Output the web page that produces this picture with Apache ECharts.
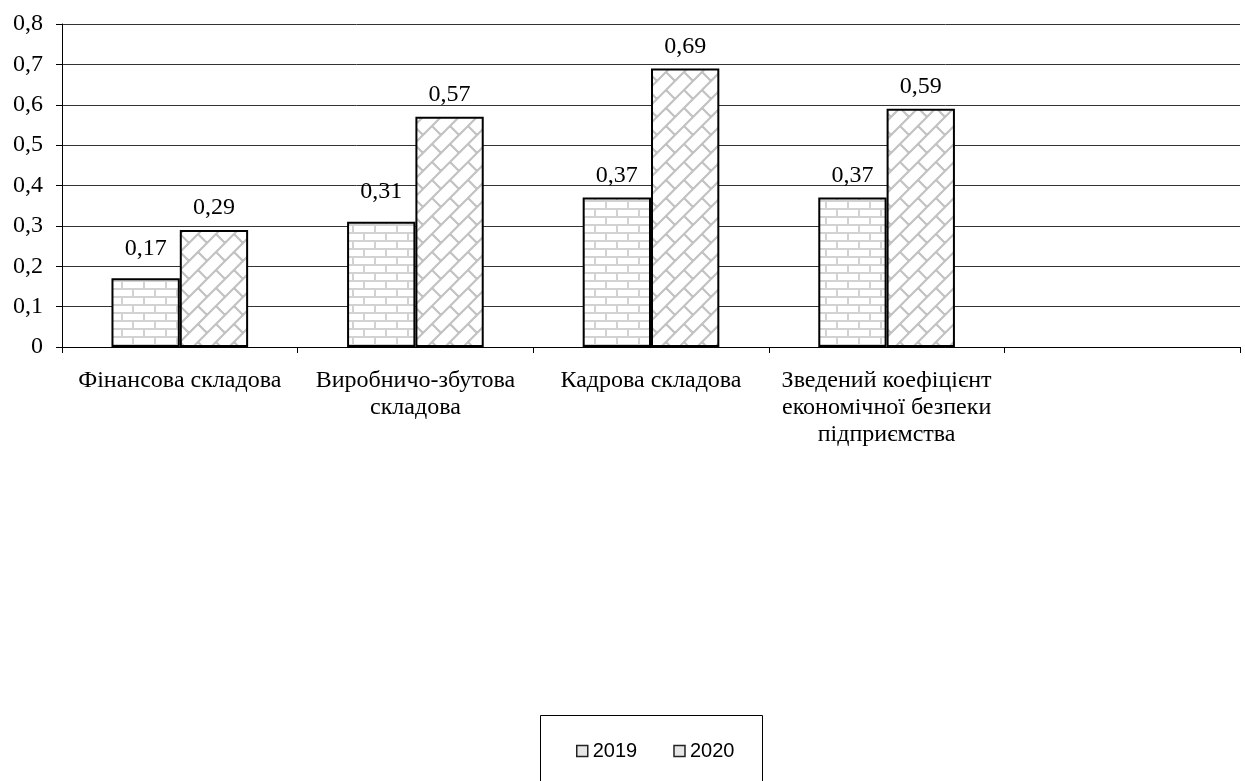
<!DOCTYPE html>
<html>
<head>
<meta charset="utf-8">
<script src="https://cdn.jsdelivr.net/npm/echarts@6/dist/echarts.min.js"></script>
<style>
  html, body { margin: 0; padding: 0; background: #fff; }
  #chart { width: 1245px; height: 781px; }
</style>
</head>
<body>
<div id="chart"></div>
<script>
// Categories (the last slot is left empty on purpose)
const categories = [
  'Фінансова складова',
  'Виробничо-збутова\nскладова',
  'Кадрова складова',
  'Зведений коефіцієнт\nекономічної безпеки\nпідприємства',
  ''
];
const seriesNames = ['2019', '2020'];
const values2019 = [0.17, 0.31, 0.37, 0.37, null];
const values2020 = [0.29, 0.57, 0.69, 0.59, null];
const yTicks = { min: 0, max: 0.8, interval: 0.1 };

const SERIF = '"Liberation Serif", "Times New Roman", serif';
const SANS = '"Liberation Sans", Arial, sans-serif';

// Horizontal brick fill
function brickTile() {
  const w = 22, h = 16;
  const c = document.createElement('canvas');
  c.width = w; c.height = h;
  const g = c.getContext('2d');
  g.fillStyle = '#ffffff';
  g.fillRect(0, 0, w, h);
  g.strokeStyle = '#d2d2d2';
  g.lineWidth = 2;
  g.beginPath();
  g.moveTo(0, 1); g.lineTo(w, 1);
  g.moveTo(0, 9); g.lineTo(w, 9);
  g.moveTo(1, 1); g.lineTo(1, 9);
  g.moveTo(12, 9); g.lineTo(12, 17);
  g.stroke();
  return c;
}

// Diagonal brick fill (rows running up-right)
function diagBrickTile() {
  const band = 18, n = band * 2;
  const c = document.createElement('canvas');
  c.width = n; c.height = n;
  const g = c.getContext('2d');
  g.fillStyle = '#ffffff';
  g.fillRect(0, 0, n, n);
  g.strokeStyle = '#c2c2c2';
  g.lineWidth = 2.2;
  g.beginPath();
  for (let k = -3; k <= 7; k++) {
    const u = band * k;
    g.moveTo(u + 80, -80); g.lineTo(-80, u + 80);
  }
  for (let k = -3; k <= 7; k++) {
    const u0 = band * k, u1 = u0 + band;
    for (let m = -4; m <= 4; m++) {
      const v = n * m + (Math.abs(k) % 2 === 1 ? band : 0);
      g.moveTo((u0 + v) / 2, (u0 - v) / 2);
      g.lineTo((u1 + v) / 2, (u1 - v) / 2);
    }
  }
  g.stroke();
  return c;
}

const fills = [
  { image: brickTile(), repeat: 'repeat' },
  { image: diagBrickTile(), repeat: 'repeat' }
];

const comma = v => String(v).replace('.', ',');

const chart = echarts.init(document.getElementById('chart'), null, { renderer: 'canvas' });

const barLabel = {
  show: true,
  position: 'top',
  distance: 10,
  color: '#000',
  fontFamily: SERIF,
  fontSize: 24,
  formatter: p => comma(p.value)
};

// The first two 2019 labels sit a little higher above their bars
const raisedLabelIdx = [0, 1];
const data2019 = values2019.map((v, i) =>
  raisedLabelIdx.includes(i) ? { value: v, label: { distance: 18 } } : v
);

chart.setOption({
  animation: false,
  backgroundColor: '#fff',
  grid: { left: 62, right: 5, top: 24, bottom: 434, containLabel: false },
  xAxis: {
    type: 'category',
    data: categories,
    axisLine: { lineStyle: { color: '#000', width: 1 } },
    axisTick: { show: true, length: 6, lineStyle: { color: '#000' } },
    axisLabel: {
      interval: 0,
      margin: 20,
      color: '#000',
      fontFamily: SERIF,
      fontSize: 24,
      lineHeight: 27,
      align: 'center'
    },
    splitLine: { show: false }
  },
  yAxis: {
    type: 'value',
    min: yTicks.min,
    max: yTicks.max,
    interval: yTicks.interval,
    axisLine: { show: true, lineStyle: { color: '#000', width: 1 } },
    axisTick: { show: true, length: 6, lineStyle: { color: '#000' } },
    axisLabel: {
      margin: 19,
      color: '#000',
      fontFamily: SERIF,
      fontSize: 24,
      formatter: v => comma(Math.round(v * 10) / 10)
    },
    splitLine: { show: true, lineStyle: { color: '#333', width: 1 } }
  },
  legend: {
    show: true,
    left: 576,
    top: 741,
    padding: 0,
    icon: 'rect',
    itemWidth: 11,
    itemHeight: 11,
    itemGap: 36,
    textStyle: { fontFamily: SANS, fontSize: 20, color: '#000' },
    data: [
      { name: seriesNames[0], itemStyle: { color: '#e6e6e6', borderColor: '#222', borderWidth: 1.5 } },
      { name: seriesNames[1], itemStyle: { color: '#e6e6e6', borderColor: '#222', borderWidth: 1.5 } }
    ]
  },
  graphic: [{
    type: 'rect',
    shape: { x: 540.5, y: 715.5, width: 222, height: 100 },
    style: { fill: 'none', stroke: '#000', lineWidth: 1 },
    silent: true,
    z: -1
  }],
  series: [
    {
      name: seriesNames[0],
      type: 'bar',
      data: data2019,
      barGap: '0%',
      barCategoryGap: '42%',
      itemStyle: { color: fills[0], borderColor: '#000', borderWidth: 2 },
      label: barLabel
    },
    {
      name: seriesNames[1],
      type: 'bar',
      data: values2020,
      barGap: '0%',
      barCategoryGap: '42%',
      itemStyle: { color: fills[1], borderColor: '#000', borderWidth: 2 },
      label: barLabel
    }
  ]
});
</script>
</body>
</html>
